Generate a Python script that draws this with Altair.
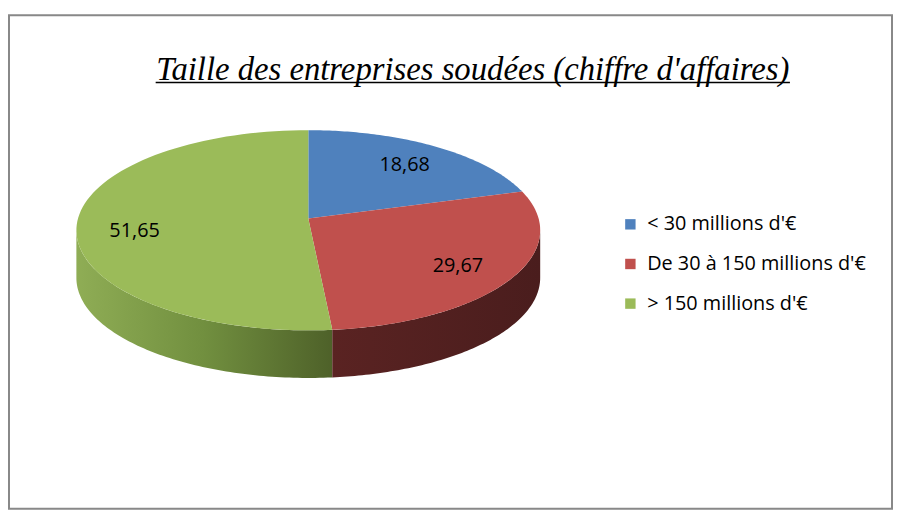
import altair as alt
import pandas as pd

# ---- data ----
categories = ["< 30 millions d'€", "De 30 à 150 millions d'€", "> 150 millions d'€"]
values = [18.68, 29.67, 51.65]
value_labels = ["18,68", "29,67", "51,65"]
colors = ["#4F81BD", "#C0504D", "#9BBB59"]
title_text = "Taille des entreprises soudées (chiffre d'affaires)"

df = pd.DataFrame({"cat": categories, "val": values, "lab": value_labels,
                   "ord": list(range(len(categories)))})

# ---- layout (pixels) ----
W, H = 891, 498
X0, Y0 = 9, 13          # page offset of the view
CX, CY, RX, RY = 311, 230, 234, 101   # ellipse of the top face
VX, VY = 311, 218                      # pie apex (perspective)
DEPTH = 48
N = 90
K = 0.75

xs = alt.Scale(domain=[X0, X0 + W], nice=False, zero=False)
ys = alt.Scale(domain=[Y0, Y0 + H], reverse=True, nice=False, zero=False)

base = (
    alt.Chart(df)
    .transform_window(cum="sum(val)", sort=[alt.SortField("ord")], frame=[None, 0])
    .transform_joinaggregate(total="sum(val)")
    .transform_calculate(t0="(datum.cum - datum.val) / datum.total * 2 * PI")
    .transform_calculate(t1="datum.cum / datum.total * 2 * PI")
)

X = alt.X("px:Q", scale=xs, axis=None)
Y = alt.Y("py:Q", scale=ys, axis=None)

# top face
top = (
    base.transform_calculate(idx=f"sequence(0, {N + 2})")
    .transform_flatten(["idx"])
    .transform_calculate(th=f"datum.t0 + (datum.t1 - datum.t0) * (datum.idx - 1) / {N}")
    .transform_calculate(px=f"datum.idx == 0 ? {VX} : {CX} + {RX} * sin(datum.th)")
    .transform_calculate(py=f"datum.idx == 0 ? {VY} : {CY} - {RY} * cos(datum.th)")
    .mark_line(filled=True, strokeWidth=0)
    .encode(
        x=X, y=Y,
        color=alt.Color(
            "cat:N",
            scale=alt.Scale(domain=categories, range=colors),
            legend=alt.Legend(
                title=None, orient="none", legendX=617, legendY=201,
                symbolType="square", symbolSize=110, symbolStrokeWidth=0,
                symbolOpacity=1, labelFont="Open Sans", labelFontSize=20,
                labelColor="#000000", rowPadding=20, labelOffset=7,
                padding=0, labelLimit=500,
            ),
        ),
        detail="cat:N",
        order=alt.Order("idx:Q"),
    )
)


def wall(cat_index, fill):
    return (
        base.transform_filter(f"datum.ord == {cat_index}")
        .transform_calculate(a="max(datum.t0, PI / 2)")
        .transform_calculate(b="min(datum.t1, 3 * PI / 2)")
        .transform_filter("datum.a < datum.b")
        .transform_calculate(idx=f"sequence(0, {2 * N + 2})")
        .transform_flatten(["idx"])
        .transform_calculate(
            th=f"datum.idx <= {N} ? datum.a + (datum.b - datum.a) * datum.idx / {N}"
               f" : datum.b - (datum.b - datum.a) * (datum.idx - {N} - 1) / {N}")
        .transform_calculate(px=f"{CX} + {RX} * sin(datum.th)")
        .transform_calculate(py=f"{CY} - {RY} * cos(datum.th) + (datum.idx <= {N} ? 0 : {DEPTH})")
        .mark_line(filled=True, strokeWidth=0, fill=fill)
        .encode(x=X, y=Y, detail="cat:N", order=alt.Order("idx:Q"))
    )


green_wall = wall(2, alt.Gradient(gradient="linear", x1=0, x2=1, y1=0, y2=0,
                                  stops=[alt.GradientStop(color="#8fad55", offset=0),
                                         alt.GradientStop(color="#718f3f", offset=0.5),
                                         alt.GradientStop(color="#4e6129", offset=1)]))
red_wall = wall(1, alt.Gradient(gradient="linear", x1=0, x2=1, y1=0, y2=0,
                                stops=[alt.GradientStop(color="#5a2322", offset=0),
                                       alt.GradientStop(color="#4a1d1d", offset=1)]))

labels = (
    base.transform_calculate(mid="(datum.t0 + datum.t1) / 2")
    .transform_calculate(px=f"{VX} + {K} * ({CX} + {RX} * sin(datum.mid) - {VX})")
    .transform_calculate(py=f"{VY} + {K} * ({CY} - {RY} * cos(datum.mid) - {VY})")
    .mark_text(font="Open Sans", fontSize=20, color="#000000")
    .encode(x=X, y=Y, text="lab:N")
)

title = (
    alt.Chart(pd.DataFrame({"t": [title_text]}))
    .mark_text(font="Liberation Serif", fontStyle="italic", fontSize=33,
               color="#000000", baseline="alphabetic")
    .encode(x=alt.value(468), y=alt.value(65), text="t:N")
)
underline = (
    alt.Chart(pd.DataFrame({"t": [title_text]}))
    .mark_rule(color="#000000", strokeWidth=1.5)
    .encode(x=alt.value(148), x2=alt.value(788), y=alt.value(68))
)

chart = (
    alt.layer(green_wall, red_wall, top, labels, title, underline)
    .properties(width=W, height=H,
                autosize=alt.AutoSizeParams(type="none"),
                padding={"left": 1, "top": 5, "right": 1, "bottom": 3},
                background="#ffffff")
    .configure_view(stroke="#888888", strokeWidth=2)
)

chart.save("out.html", embed_options={"renderer": "svg", "actions": False})
